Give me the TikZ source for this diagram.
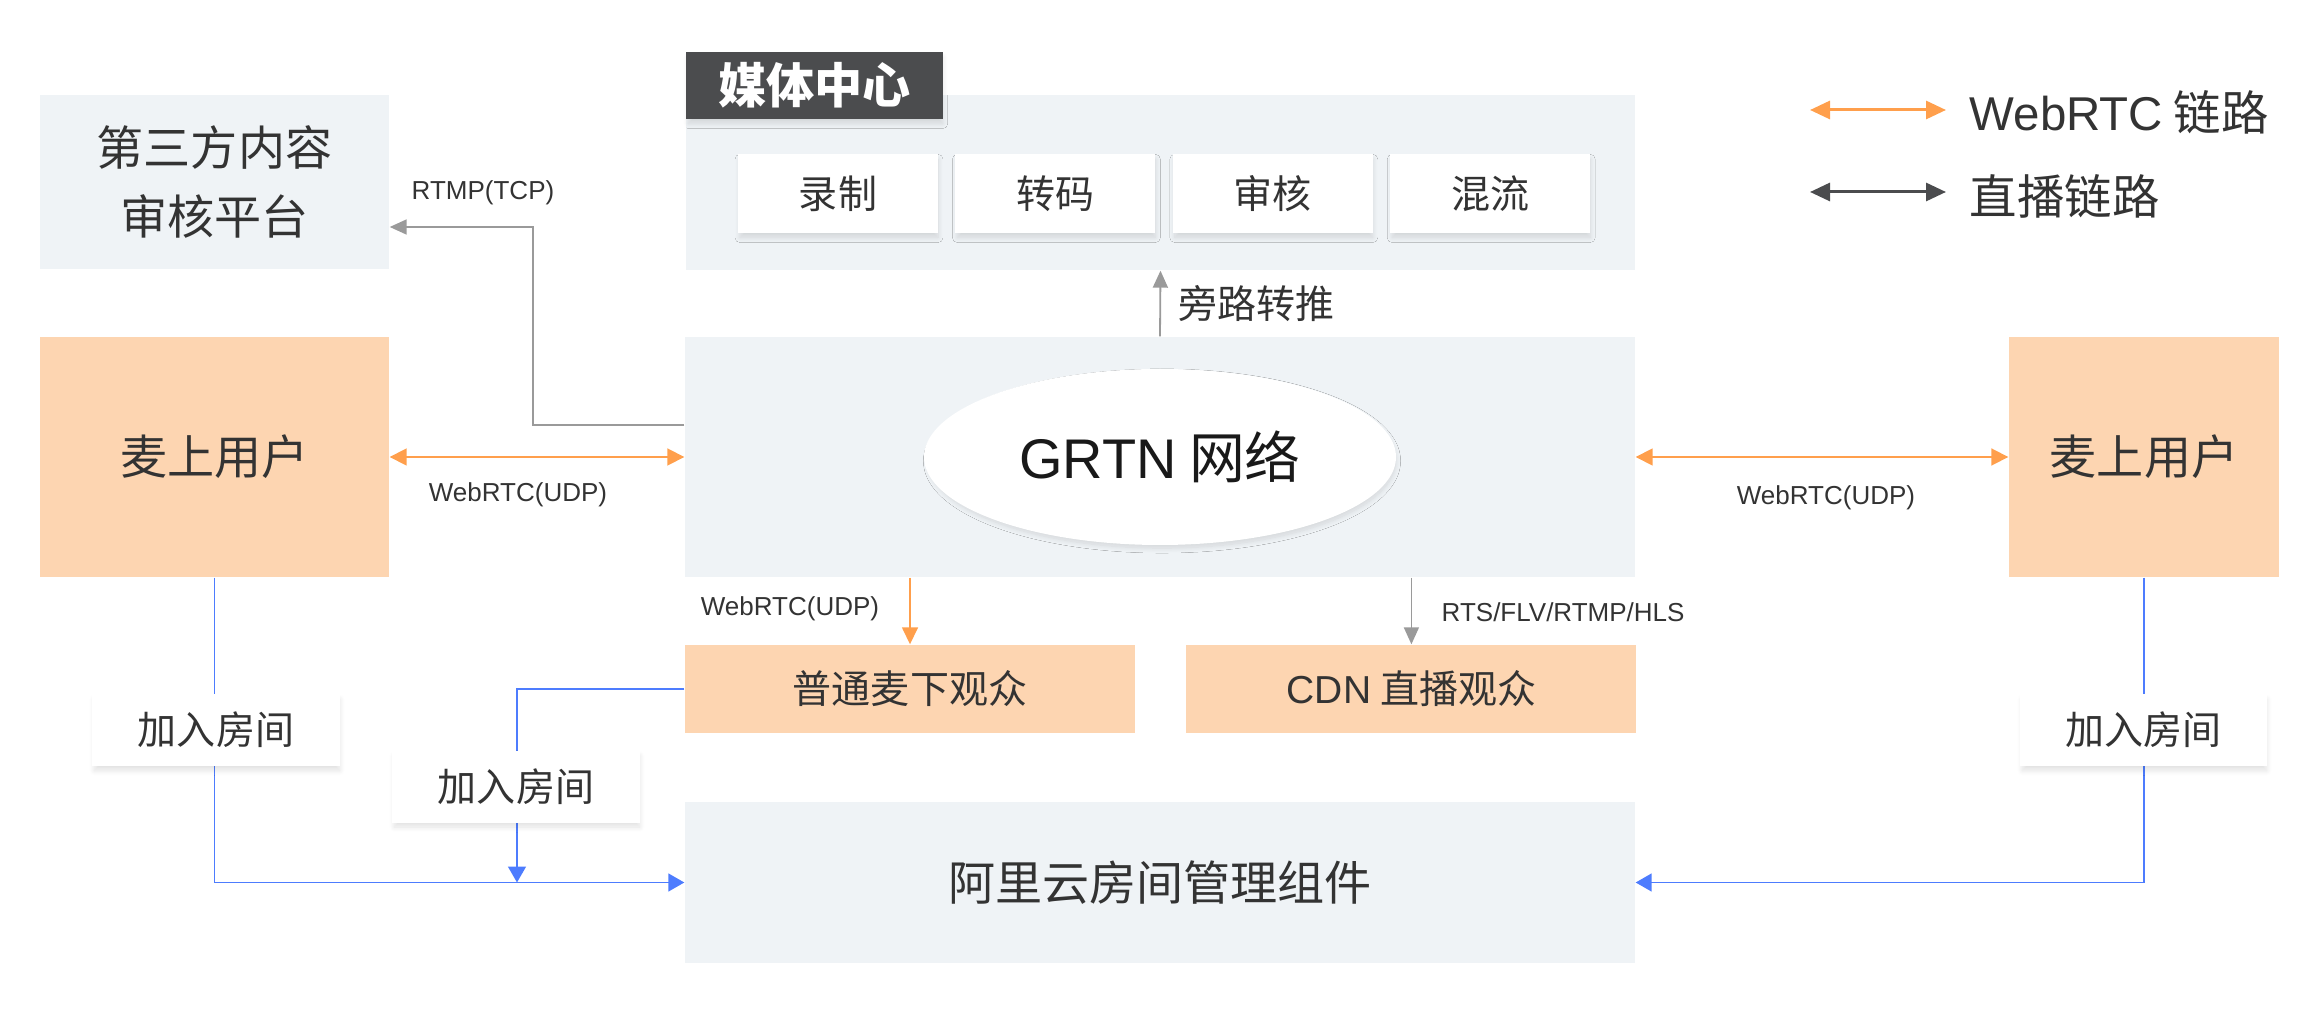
\documentclass[tikz,border=0pt]{standalone}
\usepackage{fontspec}
\setmainfont{Noto Sans CJK SC}
\newfontfamily\latinfont{Liberation Sans}
\definecolor{panelgray}{HTML}{EFF3F6}
\definecolor{peach}{HTML}{FDD5B1}
\definecolor{tabdark}{HTML}{4B4C4E}
\definecolor{linkorange}{HTML}{FF9F4C}
\definecolor{linkgray}{HTML}{9A9A9A}
\definecolor{roomblue}{HTML}{4D7CFE}
\definecolor{inkgray}{HTML}{333333}
\newcommand\bigtxt{\fontsize{13.4}{19.4}\selectfont}
\newcommand\midtxt{\fontsize{11.1}{13}\selectfont}
\newcommand\smalltxt{\fontsize{7.4}{9}\selectfont}
\newcommand\grtntxt{\fontsize{15.9}{19}\selectfont}
\newcommand\tabtxt{\fontsize{13.7}{16}\selectfont}
\newcommand\legtxt{\fontsize{13.5}{16}\selectfont}
\usetikzlibrary{arrows.meta,positioning,shadows.blur,shapes.geometric}

\begin{document}
\begin{tikzpicture}[
      every node/.append style={text=inkgray, inner sep=0pt},
      softshadow/.style={blur shadow={shadow xshift=0.01cm, shadow yshift=-0.05cm, shadow scale=0.99,
                         shadow blur radius=0.05cm, shadow blur steps=14, shadow opacity=12}},
      panel/.style={fill=panelgray, align=center, font=\bigtxt},
      userbox/.style={fill=peach, align=center, font=\bigtxt},
      viewbox/.style={fill=peach, minimum width=4.5cm, minimum height=0.88cm, font=\midtxt},
      card/.style={fill=white, minimum width=2cm, minimum height=0.79cm, font=\midtxt, softshadow},
      tag/.style={fill=white, minimum width=2.48cm, minimum height=0.72cm, font=\midtxt, softshadow},
      webarr/.style={{Triangle[length=0.17cm,width=0.17cm]}-{Triangle[length=0.17cm,width=0.17cm]},
                     linkorange, line width=0.018cm},
      webdown/.style={-{Triangle[length=0.17cm,width=0.16cm]}, linkorange, line width=0.016cm},
      grayarr/.style={-{Triangle[length=0.17cm,width=0.15cm]}, linkgray, line width=0.018cm},
      roomarr/.style={-{Triangle[length=0.16cm,width=0.18cm]}, roomblue, line width=0.016cm},
      legarr/.style={{Triangle[length=0.2cm,width=0.18cm]}-{Triangle[length=0.2cm,width=0.18cm]},
                     line width=0.03cm}
    ]
    \useasboundingbox (0,0) rectangle (23.2,-10.34);

    \node[panel, minimum width=3.49cm, minimum height=1.74cm] (third) at (2.145,-1.82) {第三方内容\\审核平台};
    \node[panel, minimum width=9.49cm, minimum height=1.75cm] (media) at (11.605,-1.825) {};
    \node[fill=tabdark, text=white, minimum width=2.57cm, minimum height=0.67cm, font=\tabtxt\bfseries,
          softshadow] (mediatab) at (8.145,-0.855) {媒体中心};
    \node[card] (record) at (8.38,-1.935) {录制};
    \node[card, right=0.16cm of record] (transcode) {转码};
    \node[card, right=0.16cm of transcode] (audit) {审核};
    \node[card, right=0.16cm of audit] (mix) {混流};

    \node[panel, minimum width=9.5cm, minimum height=2.4cm] (grtn) at (11.6,-4.57) {};
    \node[ellipse, fill=white, minimum width=4.72cm, minimum height=1.76cm, font=\grtntxt, text=black!90,
          blur shadow={shadow xshift=0.02cm, shadow yshift=-0.04cm, shadow scale=0.99, shadow blur radius=0.05cm,
                       shadow blur steps=14, shadow opacity=12}] (grtnnet) at (11.6,-4.57) {{\latinfont GRTN} 网络};
    \node[userbox, minimum width=3.49cm, minimum height=2.4cm] (micleft) at (2.145,-4.57) {麦上用户};
    \node[userbox, minimum width=2.7cm, minimum height=2.4cm] (micright) at (21.44,-4.57) {麦上用户};

    \node[viewbox] (normal) at (9.1,-6.89) {普通麦下观众};
    \node[viewbox, right=0.5cm of normal] (cdn) {{\latinfont CDN} 直播观众};
    \node[panel, minimum width=9.5cm, minimum height=1.61cm] (room) at (11.6,-8.825) {阿里云房间管理组件};

    \draw[grayarr] (grtn.north) -- (media.south)
      node[midway, right=0.17cm, font=\midtxt] (bypass) {旁路转推};
    \coordinate (rtmpbend) at (5.33,-2.27);
    \draw[grayarr] ([yshift=0.32cm]grtn.west) -| (rtmpbend) -- (third.east |- rtmpbend);
    \node[font=\smalltxt] (rtmplbl) at (4.83,-1.93) {\latinfont RTMP(TCP)};

    \draw[webarr] (micleft.east) -- (grtn.west);
    \node[font=\smalltxt] (webleft) at (5.18,-4.95) {\latinfont WebRTC(UDP)};
    \draw[webarr] (grtn.east) -- (micright.west);
    \node[font=\smalltxt] (webright) at (18.26,-4.98) {\latinfont WebRTC(UDP)};

    \draw[webdown] (grtn.south -| normal.north) -- (normal.north);
    \node[font=\smalltxt] (webdownlbl) at (7.9,-6.09) {\latinfont WebRTC(UDP)};
    \draw[grayarr] (grtn.south -| cdn.north) -- (cdn.north);
    \node[font=\smalltxt, anchor=west] (cdnlbl) at (14.41,-6.12) {\latinfont RTS/FLV/RTMP/HLS};

    \coordinate (joinpt) at (5.17,-8.825);
    \draw[roomarr] (micleft.south) |- (room.west);
    \draw[roomarr] (normal.west) -| (joinpt);
    \draw[roomarr] (micright.south) |- (room.east);
    \node[tag] (joinleft) at (2.16,-7.30) {加入房间};
    \node[tag] (joinmid) at (5.16,-7.865) {加入房间};
    \node[tag, minimum width=2.47cm] (joinright) at (21.435,-7.30) {加入房间};

    \coordinate (legweba) at (18.10,-1.10);
    \coordinate (legwebb) at (19.46,-1.10);
    \coordinate (leglivea) at (18.10,-1.92);
    \coordinate (leglivebb) at (19.46,-1.92);
    \draw[legarr, linkorange] (legweba) -- (legwebb);
    \draw[legarr, tabdark] (leglivea) -- (leglivebb);
    \node[font=\legtxt, anchor=west] (legweb) at (19.69,-1.12) {{\latinfont WebRTC} 链路};
    \node[font=\legtxt, anchor=west] (leglive) at (19.69,-1.96) {直播链路};
  \end{tikzpicture}
\end{document}
